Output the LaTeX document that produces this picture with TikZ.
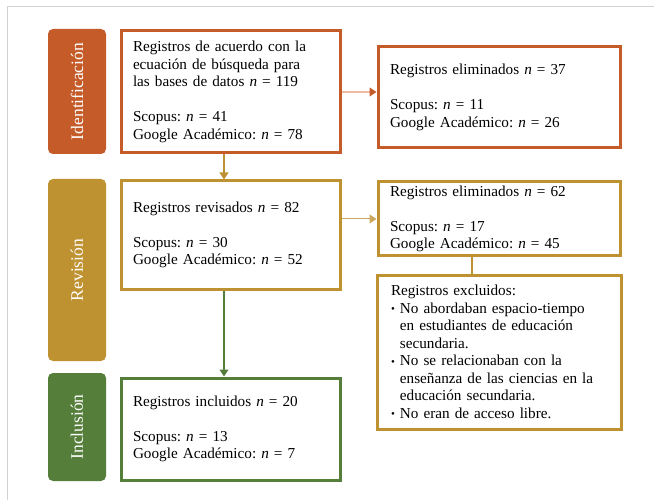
\documentclass[tikz,border=0pt]{standalone}
\usepackage{fontspec}
\setmainfont{Liberation Serif}
\usetikzlibrary{arrows.meta}

\definecolor{idcolor}{HTML}{C45B28}
\definecolor{revcolor}{HTML}{BF9231}
\definecolor{inccolor}{HTML}{557E3B}
\definecolor{palecolor}{HTML}{F0BBA5}
\definecolor{framecolor}{HTML}{D2D2D2}
\newcommand{\nn}{\textit{n}}
\newcommand{\dotitem}{\raisebox{0.6pt}{\fontsize{11}{11}\selectfont\textbullet}\ }
\newcommand{\hang}{\phantom{\dotitem}}
\frenchspacing

\begin{document}
\begin{tikzpicture}[x=1pt,y=-1pt,
    phase bar/.style={rectangle,rounded corners=5pt,minimum height=58pt,inner sep=0pt,text=white,rotate=90,font=\fontsize{17.5}{20}\selectfont},
    main box/.style={rectangle,draw,line width=3pt,fill=white,inner xsep=12pt,inner ysep=0pt,text width=#1,align=left,font=\fontsize{15.2}{17.5}\selectfont},
    main box/.default=195pt,
    head/.style={-{Triangle[length=7pt,width=9pt]}}]
    \useasboundingbox (0,0) rectangle (654,500);
    \draw[framecolor, line width=1pt] (7,500) -- (7,7) -- (654,7);

    % phases
    \node[phase bar, fill=idcolor, minimum width=125pt] at (77, 91.5) (idbar) {Identificación};
    \node[phase bar, fill=revcolor, minimum width=182pt] at (77, 270) (revbar) {Revisión};
    \node[phase bar, fill=inccolor, minimum width=108pt] at (77, 427) (incbar) {Inclusión};

    % boxes
    \node[main box, draw=idcolor, minimum height=122pt] at (230.5, 92) (ident)
        {Registros de acuerdo con la\\ecuación de búsqueda para\\las bases de datos \nn{} = 119\\[17.5pt]Scopus: \nn{} = 41\\Google Académico: \nn{} = 78};
    \node[main box=218pt, draw=idcolor, minimum height=101pt] at (499, 97.5) (elim1)
        {Registros eliminados \nn{} = 37\\[17.5pt]Scopus: \nn{} = 11\\Google Académico: \nn{} = 26};
    \node[main box, draw=revcolor, minimum height=108pt] at (230.5, 235) (rev)
        {Registros revisados \nn{} = 82\\[17.5pt]Scopus: \nn{} = 30\\Google Académico: \nn{} = 52};
    \node[main box=218pt, draw=revcolor, minimum height=74pt] at (499, 219) (elim2)
        {Registros eliminados \nn{} = 62\\[17.5pt]Scopus: \nn{} = 17\\Google Académico: \nn{} = 45};
    \node[main box=216pt, inner xsep=14pt, draw=revcolor, minimum height=154pt] at (499, 352) (excl)
        {Registros excluidos:\\
         \dotitem No abordaban espacio-tiempo\\
         \hang en estudiantes de educación\\
         \hang secundaria.\\
         \dotitem No se relacionaban con la\\
         \hang enseñanza de las ciencias en la\\
         \hang educación secundaria.\\
         \dotitem No eran de acceso libre.};
    \node[main box, draw=inccolor, minimum height=102pt] at (230.5, 429) (inc)
        {Registros incluidos \nn{} = 20\\[17.5pt]Scopus: \nn{} = 13\\Google Académico: \nn{} = 7};

    % connectors
    \draw[palecolor, line width=1.2pt, -{Triangle[length=7pt,width=9pt,color=idcolor]}] (ident.east) -- (ident.east -| elim1.west);
    \draw[revcolor, line width=1.2pt, head] ([xshift=-6.5pt]ident.south) -- ([xshift=-6.5pt]rev.north);
    \draw[revcolor!80, line width=1pt, head] (elim2.west -| rev.east) -- (elim2.west);
    \draw[revcolor, line width=1.2pt] ([xshift=-27pt]elim2.south) -- ([xshift=-27pt]excl.north);
    \draw[inccolor, line width=1.2pt, head] ([xshift=-6.5pt]rev.south) -- ([xshift=-6.5pt]inc.north);
\end{tikzpicture}
\end{document}
